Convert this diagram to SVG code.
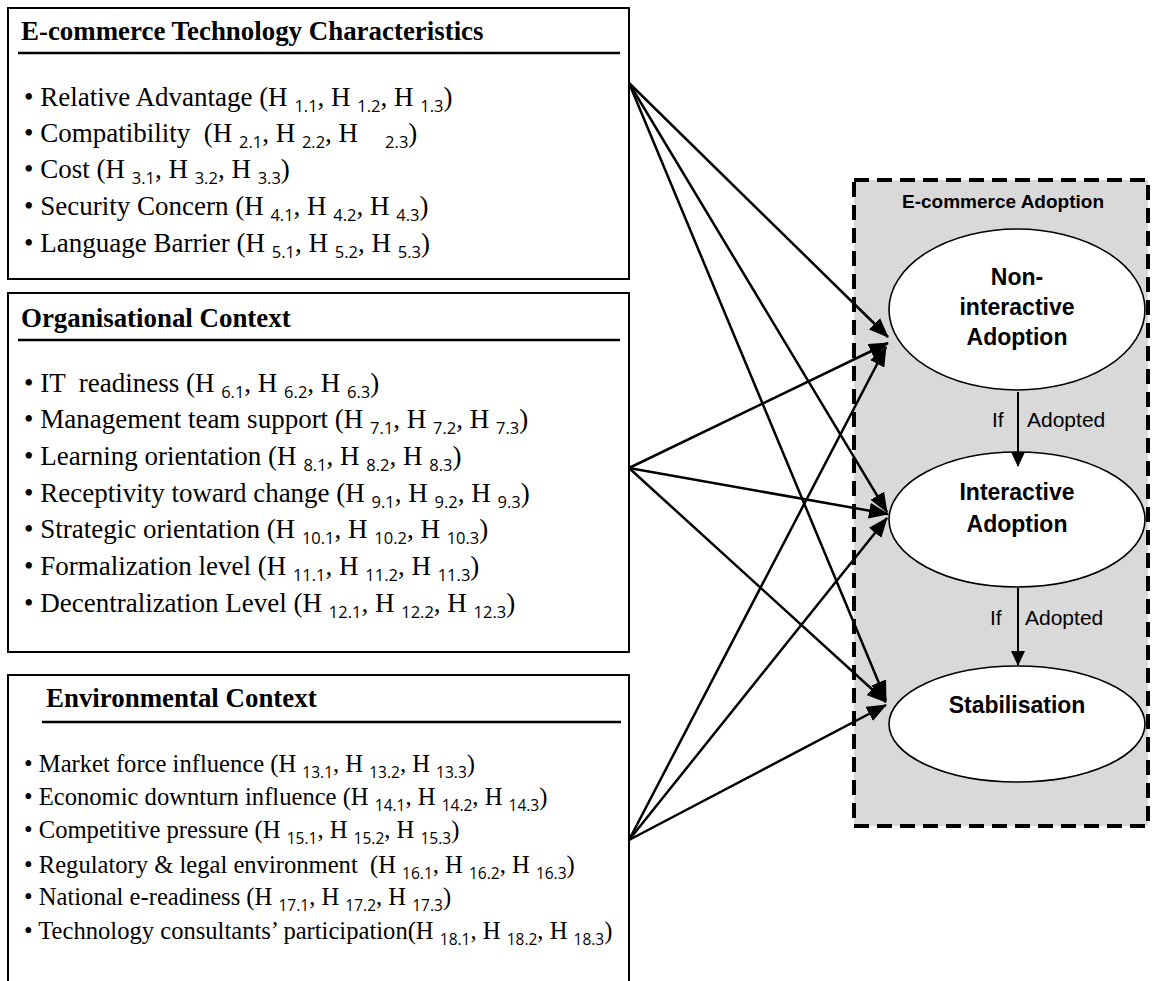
<svg xmlns="http://www.w3.org/2000/svg" width="1152" height="981" viewBox="0 0 1152 981">
<style>
.box{fill:#fff;stroke:#000;stroke-width:2}
.hl{stroke:#000;stroke-width:2.5}
.ttl{font-family:"Liberation Serif","Times New Roman",serif;font-weight:bold;font-size:26.9px}
.it{font-family:"Liberation Serif","Times New Roman",serif;font-size:27px}
.it3{font-size:24.6px}
.s{font-family:"Open Sans","Liberation Sans",sans-serif;font-size:16.5px}
.it3 .s{font-size:15.5px}
.panel{fill:#d9d9d9;stroke:#000;stroke-width:4;stroke-dasharray:15 8}
.ptl{font-family:"Liberation Sans",Arial,sans-serif;font-weight:bold;font-size:19px}
.node ellipse{fill:#fff;stroke:#000;stroke-width:1.6}
.nl{font-family:"Liberation Sans",Arial,sans-serif;font-weight:bold;font-size:23px;text-anchor:middle}
.lbl{font-family:"Liberation Sans",Arial,sans-serif;font-size:21px}
.c{stroke:#000;stroke-width:2.5;fill:none;marker-end:url(#ah)}
.v{stroke:#000;stroke-width:2;fill:none;marker-end:url(#ah2)}
</style>
<defs>
<marker id="ah" markerUnits="userSpaceOnUse" markerWidth="20" markerHeight="16" refX="19" refY="8" orient="auto"><path d="M0,0 L20,8 L0,16 z" fill="#000"/></marker>
<marker id="ah2" markerUnits="userSpaceOnUse" markerWidth="15" markerHeight="14" refX="14" refY="7" orient="auto"><path d="M0,0 L15,7 L0,14 z" fill="#000"/></marker>
</defs>

<g id="tech">
<rect class="box" x="8" y="8" width="621" height="271"/>
<text class="ttl" x="21" y="40">E-commerce Technology Characteristics</text>
<line class="hl" x1="18" y1="53" x2="620" y2="53"/>
<text class="it" x="24" y="106" xml:space="preserve">• Relative Advantage (H <tspan class="s" dy="6">1.1</tspan><tspan dy="-6">, H </tspan><tspan class="s" dy="6">1.2</tspan><tspan dy="-6">, H </tspan><tspan class="s" dy="6">1.3</tspan><tspan dy="-6">)</tspan></text>
<text class="it" x="24" y="142" xml:space="preserve">• Compatibility  (H <tspan class="s" dy="6">2.1</tspan><tspan dy="-6">, H </tspan><tspan class="s" dy="6">2.2</tspan><tspan dy="-6">, H    </tspan><tspan class="s" dy="6">2.3</tspan><tspan dy="-6">)</tspan></text>
<text class="it" x="24" y="178" xml:space="preserve">• Cost (H <tspan class="s" dy="6">3.1</tspan><tspan dy="-6">, H </tspan><tspan class="s" dy="6">3.2</tspan><tspan dy="-6">, H </tspan><tspan class="s" dy="6">3.3</tspan><tspan dy="-6">)</tspan></text>
<text class="it" x="24" y="215" xml:space="preserve">• Security Concern (H <tspan class="s" dy="6">4.1</tspan><tspan dy="-6">, H </tspan><tspan class="s" dy="6">4.2</tspan><tspan dy="-6">, H </tspan><tspan class="s" dy="6">4.3</tspan><tspan dy="-6">)</tspan></text>
<text class="it" x="24" y="252" xml:space="preserve">• Language Barrier (H <tspan class="s" dy="6">5.1</tspan><tspan dy="-6">, H </tspan><tspan class="s" dy="6">5.2</tspan><tspan dy="-6">, H </tspan><tspan class="s" dy="6">5.3</tspan><tspan dy="-6">)</tspan></text>
</g>

<g id="org">
<rect class="box" x="8" y="293" width="621" height="359"/>
<text class="ttl" x="21" y="327">Organisational Context</text>
<line class="hl" x1="18" y1="340" x2="620" y2="340"/>
<text class="it" x="24" y="392" xml:space="preserve">• IT  readiness (H <tspan class="s" dy="6">6.1</tspan><tspan dy="-6">, H </tspan><tspan class="s" dy="6">6.2</tspan><tspan dy="-6">, H </tspan><tspan class="s" dy="6">6.3</tspan><tspan dy="-6">)</tspan></text>
<text class="it" x="24" y="428" xml:space="preserve">• Management team support (H <tspan class="s" dy="6">7.1</tspan><tspan dy="-6">, H </tspan><tspan class="s" dy="6">7.2</tspan><tspan dy="-6">, H </tspan><tspan class="s" dy="6">7.3</tspan><tspan dy="-6">)</tspan></text>
<text class="it" x="24" y="465" xml:space="preserve">• Learning orientation (H <tspan class="s" dy="6">8.1</tspan><tspan dy="-6">, H </tspan><tspan class="s" dy="6">8.2</tspan><tspan dy="-6">, H </tspan><tspan class="s" dy="6">8.3</tspan><tspan dy="-6">)</tspan></text>
<text class="it" x="24" y="502" xml:space="preserve">• Receptivity toward change (H <tspan class="s" dy="6">9.1</tspan><tspan dy="-6">, H </tspan><tspan class="s" dy="6">9.2</tspan><tspan dy="-6">, H </tspan><tspan class="s" dy="6">9.3</tspan><tspan dy="-6">)</tspan></text>
<text class="it" x="24" y="538" xml:space="preserve">• Strategic orientation (H <tspan class="s" dy="6">10.1</tspan><tspan dy="-6">, H </tspan><tspan class="s" dy="6">10.2</tspan><tspan dy="-6">, H </tspan><tspan class="s" dy="6">10.3</tspan><tspan dy="-6">)</tspan></text>
<text class="it" x="24" y="575" xml:space="preserve">• Formalization level (H <tspan class="s" dy="6">11.1</tspan><tspan dy="-6">, H </tspan><tspan class="s" dy="6">11.2</tspan><tspan dy="-6">, H </tspan><tspan class="s" dy="6">11.3</tspan><tspan dy="-6">)</tspan></text>
<text class="it" x="24" y="612" xml:space="preserve">• Decentralization Level (H <tspan class="s" dy="6">12.1</tspan><tspan dy="-6">, H </tspan><tspan class="s" dy="6">12.2</tspan><tspan dy="-6">, H </tspan><tspan class="s" dy="6">12.3</tspan><tspan dy="-6">)</tspan></text>
</g>

<g id="env">
<path class="box" d="M8,990 V675 H629 V990"/>
<text class="ttl" x="46" y="707">Environmental Context</text>
<line class="hl" x1="42" y1="722" x2="621" y2="722"/>
<text class="it it3" x="24" y="772" xml:space="preserve">• Market force influence (H <tspan class="s" dy="6">13.1</tspan><tspan dy="-6">, H </tspan><tspan class="s" dy="6">13.2</tspan><tspan dy="-6">, H </tspan><tspan class="s" dy="6">13.3</tspan><tspan dy="-6">)</tspan></text>
<text class="it it3" x="24" y="805" xml:space="preserve">• Economic downturn influence (H <tspan class="s" dy="6">14.1</tspan><tspan dy="-6">, H </tspan><tspan class="s" dy="6">14.2</tspan><tspan dy="-6">, H </tspan><tspan class="s" dy="6">14.3</tspan><tspan dy="-6">)</tspan></text>
<text class="it it3" x="24" y="838" xml:space="preserve">• Competitive pressure (H <tspan class="s" dy="6">15.1</tspan><tspan dy="-6">, H </tspan><tspan class="s" dy="6">15.2</tspan><tspan dy="-6">, H </tspan><tspan class="s" dy="6">15.3</tspan><tspan dy="-6">)</tspan></text>
<text class="it it3" x="24" y="873" xml:space="preserve">• Regulatory &amp; legal environment  (H <tspan class="s" dy="6">16.1</tspan><tspan dy="-6">, H </tspan><tspan class="s" dy="6">16.2</tspan><tspan dy="-6">, H </tspan><tspan class="s" dy="6">16.3</tspan><tspan dy="-6">)</tspan></text>
<text class="it it3" x="24" y="905" xml:space="preserve">• National e-readiness (H <tspan class="s" dy="6">17.1</tspan><tspan dy="-6">, H </tspan><tspan class="s" dy="6">17.2</tspan><tspan dy="-6">, H </tspan><tspan class="s" dy="6">17.3</tspan><tspan dy="-6">)</tspan></text>
<text class="it it3" x="24" y="939" xml:space="preserve">• Technology consultants’ participation(H <tspan class="s" dy="6">18.1</tspan><tspan dy="-6">, H </tspan><tspan class="s" dy="6">18.2</tspan><tspan dy="-6">, H </tspan><tspan class="s" dy="6">18.3</tspan><tspan dy="-6">)</tspan></text>
</g>

<g id="adoption">
<rect class="panel" x="854" y="180" width="294" height="646"/>
<text class="ptl" x="902" y="208">E-commerce Adoption</text>
</g>

<g id="non-interactive" class="node">
<ellipse cx="1017" cy="309.5" rx="128" ry="80.5"/>
<text class="nl" x="1017" y="285">Non-</text>
<text class="nl" x="1017" y="315">interactive</text>
<text class="nl" x="1017" y="345">Adoption</text>
</g>

<g id="interactive" class="node">
<ellipse cx="1017" cy="519.5" rx="128" ry="67.5"/>
<text class="nl" x="1017" y="500">Interactive</text>
<text class="nl" x="1017" y="532">Adoption</text>
</g>

<g id="stabilisation" class="node">
<ellipse cx="1017" cy="724" rx="128" ry="58"/>
<text class="nl" x="1017" y="713">Stabilisation</text>
</g>

<g id="connectors">
<line class="c" x1="629" y1="83" x2="888" y2="337"/>
<line class="c" x1="629" y1="83" x2="887" y2="512"/>
<line class="c" x1="629" y1="83" x2="886" y2="700"/>
<line class="c" x1="629" y1="468" x2="888" y2="343"/>
<line class="c" x1="629" y1="468" x2="888" y2="514"/>
<line class="c" x1="629" y1="468" x2="886" y2="702"/>
<line class="c" x1="629" y1="840" x2="886" y2="347"/>
<line class="c" x1="629" y1="840" x2="887" y2="518"/>
<line class="c" x1="629" y1="840" x2="886" y2="705"/>
<line class="v" x1="1018" y1="392" x2="1018" y2="466"/>
<line class="v" x1="1018" y1="588" x2="1018" y2="665"/>
<text class="lbl" x="992" y="427">If</text>
<text class="lbl" x="1027" y="427">Adopted</text>
<text class="lbl" x="990" y="625">If</text>
<text class="lbl" x="1025" y="625">Adopted</text>
</g>
</svg>
